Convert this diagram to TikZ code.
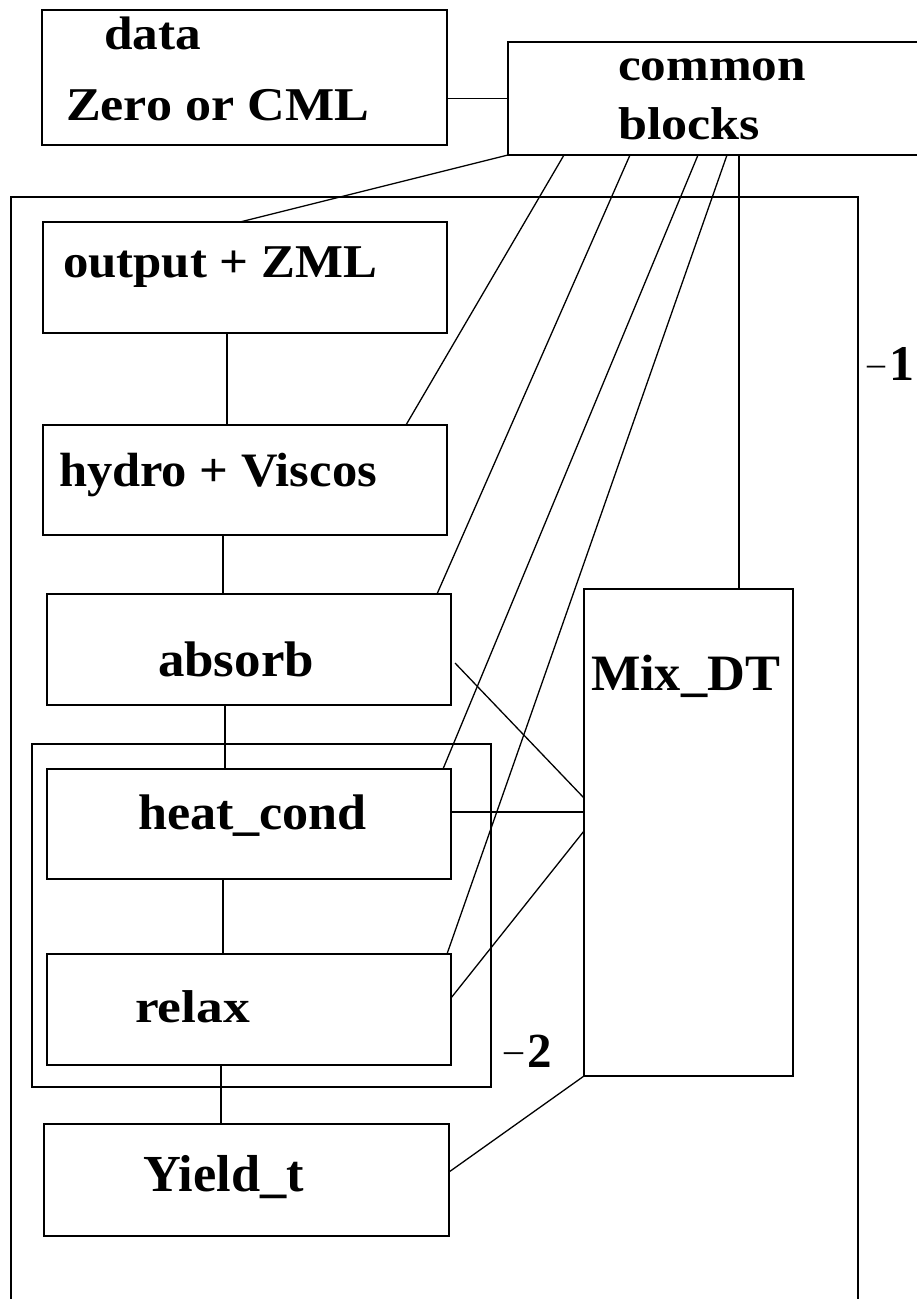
\documentclass[tikz,border=0pt]{standalone}
\usepackage{fontspec}
\setmainfont{Liberation Serif}
\usepackage{graphicx}
% bold label of given size, stretched horizontally to a given width
\newcommand{\lbl}[3]{\resizebox{#1}{\height}{\fontsize{#2}{#2}\selectfont\bfseries #3}}
\tikzset{
  boxline/.style={line width=1.8pt, line cap=rect},
  box/.style={draw, boxline, rectangle, inner sep=0pt, outer sep=0pt, anchor=north west},
  frame/.style={rectangle, inner sep=0pt, outer sep=0pt, anchor=north west},
  link/.style={line width=1.3pt},
  txt/.style={anchor=base west, inner sep=0pt, outer sep=0pt}
}
\begin{document}
\begin{tikzpicture}[x=1pt, y=-1pt]
\useasboundingbox (0,0) rectangle (916,1299);

% top boxes
\node[box, minimum width=405pt, minimum height=135pt] (data) at (42,10) {};
\node[frame, minimum width=408pt, minimum height=113pt] (common) at (508,42) {};
\draw[boxline] (common.north east) -- (common.north west) -- (common.south west) -- (common.south east);

% outer frame (level 1), open at the bottom
\node[frame, minimum width=847pt, minimum height=1102pt] (outer) at (11,197) {};
\draw[boxline] (outer.south west) -- (outer.north west) -- (outer.north east) -- (outer.south east);

% routine boxes
\node[box, minimum width=404pt, minimum height=111pt] (output) at (43,222) {};
\node[box, minimum width=404pt, minimum height=110pt] (hydro)  at (43,425) {};
\node[box, minimum width=404pt, minimum height=111pt] (absorb) at (47,594) {};
\node[box, minimum width=459pt, minimum height=343pt] (inner)  at (32,744) {};
\node[box, minimum width=404pt, minimum height=110pt] (heat)   at (47,769) {};
\node[box, minimum width=404pt, minimum height=111pt] (relax)  at (47,954) {};
\node[box, minimum width=405pt, minimum height=112pt] (yield)  at (44,1124) {};
\node[box, minimum width=209pt, minimum height=487pt] (mix)    at (584,589) {};

% labels
\node[txt] (tdata)   at (104,49)   {\lbl{97pt}{47}{data}};
\node[txt] (tzero)   at (66,120)   {\lbl{303pt}{47}{Zero or CML}};
\node[txt] (tcommon) at (618,80)   {\lbl{188pt}{46}{common}};
\node[txt] (tblocks) at (618,139)  {\lbl{142pt}{46}{blocks}};
\node[txt] (toutput) at (63,277)   {\lbl{314pt}{47}{output + ZML}};
\node[txt] (thydro)  at (59,486)   {\lbl{318pt}{48}{hydro + Viscos}};
\node[txt] (tabsorb) at (158,676)  {\lbl{156pt}{50}{absorb}};
\node[txt] (theat)   at (138,829)  {\lbl{229pt}{50}{heat\_cond}};
\node[txt] (trelax)  at (135,1022) {\lbl{115pt}{46}{relax}};
\node[txt] (tyield)  at (143,1191) {\lbl{161pt}{52}{Yield\_t}};
\node[txt] (tmix)    at (591,690)  {\lbl{189pt}{51}{Mix\_DT}};
\node[txt] (lone)    at (867,380)  {{\fontsize{36}{36}\selectfont\raisebox{5pt}{–}}\kern 4pt{\fontsize{50}{50}\selectfont\bfseries 1}};
\node[txt] (ltwo)    at (504,1067) {{\fontsize{38}{38}\selectfont\raisebox{5pt}{–}}\kern 4pt{\fontsize{49}{49}\selectfont\bfseries 2}};

% data to common blocks
\draw[link] (data.east |- common.west) -- (common.west);

% common blocks to the routines
\draw[link] (common.south west) -- ([xshift=197pt]output.north west);
\draw[link] ([xshift=56pt]common.south west)  -- ([xshift=-41pt]hydro.north east);
\draw[link] ([xshift=122pt]common.south west) -- ([xshift=-14pt]absorb.north east);
\draw[link] ([xshift=190pt]common.south west) -- ([xshift=-8pt]heat.north east);
\draw[link] ([xshift=219pt]common.south west) -- ([xshift=-4pt]relax.north east);
\draw[link] ([xshift=155pt]mix.north west |- common.south) -- ([xshift=155pt]mix.north west);

% calling chain
\draw[link] ([xshift=184pt]output.south west) -- ([xshift=184pt]hydro.north west);
\draw[link] ([xshift=180pt]hydro.south west)  -- ([xshift=176pt]absorb.north west);
\draw[link] ([xshift=178pt]absorb.south west) -- ([xshift=178pt]heat.north west);
\draw[link] ([xshift=176pt]heat.south west)   -- ([xshift=176pt]relax.north west);
\draw[link] ([xshift=174pt]relax.south west)  -- ([xshift=177pt]yield.north west);

% Mix_DT connections
\draw[link] ([xshift=4pt, yshift=-13.5pt]absorb.east) -- ([yshift=-209pt]mix.north west);
\draw[link] ([yshift=12pt]heat.east) -- ([yshift=12pt]heat.east -| mix.west);
\draw[link] ([yshift=-242pt]mix.north west) -- ([yshift=11.5pt]relax.east);
\draw[link] (mix.south west) -- ([yshift=8pt]yield.east);
\end{tikzpicture}
\end{document}
